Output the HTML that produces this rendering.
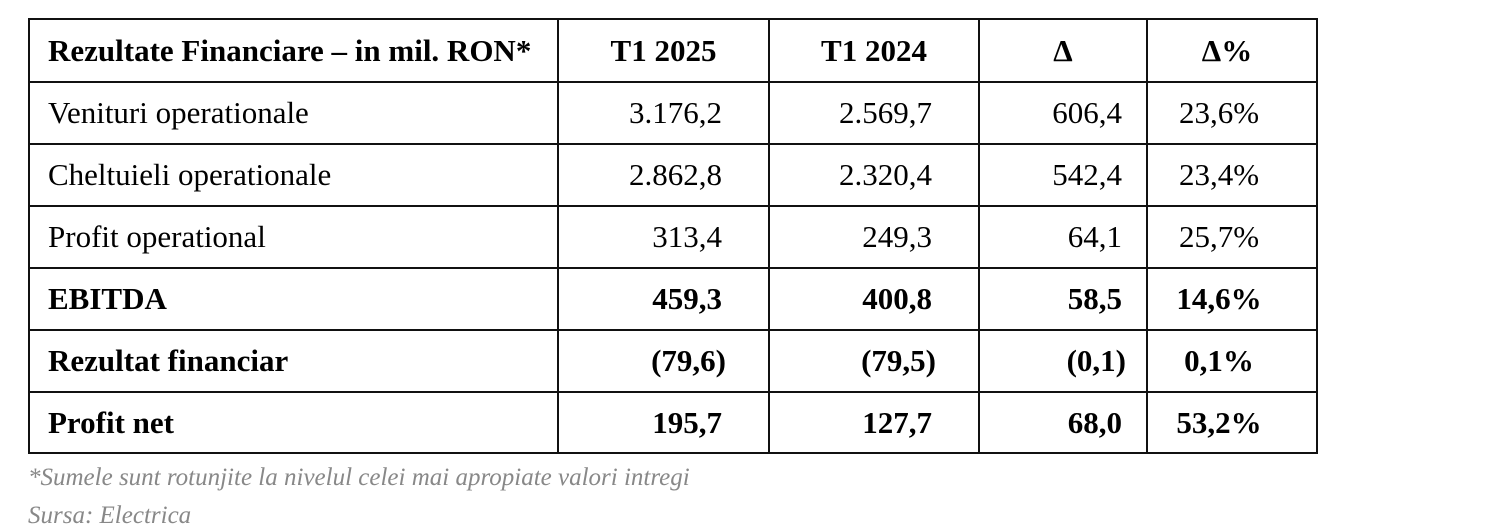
<!DOCTYPE html>
<html><head><meta charset="utf-8"><style>
body{margin:0;width:1506px;height:532px;background:#fff;position:relative;overflow:hidden;font-family:"Liberation Serif",serif;}
table{position:absolute;left:28px;top:18px;border-collapse:collapse;}
td{border:2.5px solid #111;font-size:31px;color:#000;padding:0;height:59px;box-sizing:border-box;}
tr.h td{height:63px;font-weight:bold;text-align:center}
tr.b td{font-weight:bold}
tr td.l{text-align:left;padding-left:18px}
td.n{text-align:right;padding-right:46px}
td.d{text-align:right;padding-right:24px}
td.p{text-align:center;padding-right:26px}
.f{position:absolute;left:28px;font-style:italic;color:#888;font-size:25px;}
</style></head><body>
<table>
<colgroup><col style="width:529px"><col style="width:211px"><col style="width:210px"><col style="width:168px"><col style="width:170px"></colgroup>
<tr class="h"><td class="l">Rezultate Financiare – in mil. RON*</td><td>T1 2025</td><td>T1 2024</td><td>Δ</td><td style="padding-right:10px">Δ%</td></tr>
<tr style="height:62px"><td class="l">Venituri operationale</td><td class="n">3.176,2</td><td class="n">2.569,7</td><td class="d">606,4</td><td class="p">23,6%</td></tr>
<tr style="height:62px"><td class="l">Cheltuieli operationale</td><td class="n">2.862,8</td><td class="n">2.320,4</td><td class="d">542,4</td><td class="p">23,4%</td></tr>
<tr style="height:62px"><td class="l">Profit operational</td><td class="n">313,4</td><td class="n">249,3</td><td class="d">64,1</td><td class="p">25,7%</td></tr>
<tr class="b" style="height:62px"><td class="l">EBITDA</td><td class="n">459,3</td><td class="n">400,8</td><td class="d">58,5</td><td class="p">14,6%</td></tr>
<tr class="b" style="height:62px"><td class="l">Rezultat financiar</td><td class="n" style="padding-right:42px">(79,6)</td><td class="n" style="padding-right:42px">(79,5)</td><td class="d" style="padding-right:20px">(0,1)</td><td class="p">0,1%</td></tr>
<tr class="b" style="height:61px"><td class="l">Profit net</td><td class="n">195,7</td><td class="n">127,7</td><td class="d">68,0</td><td class="p">53,2%</td></tr>
</table>
<div class="f" style="top:464px">*Sumele sunt rotunjite la nivelul celei mai apropiate valori intregi</div>
<div class="f" style="top:502px">Sursa: Electrica</div>
</body></html>
